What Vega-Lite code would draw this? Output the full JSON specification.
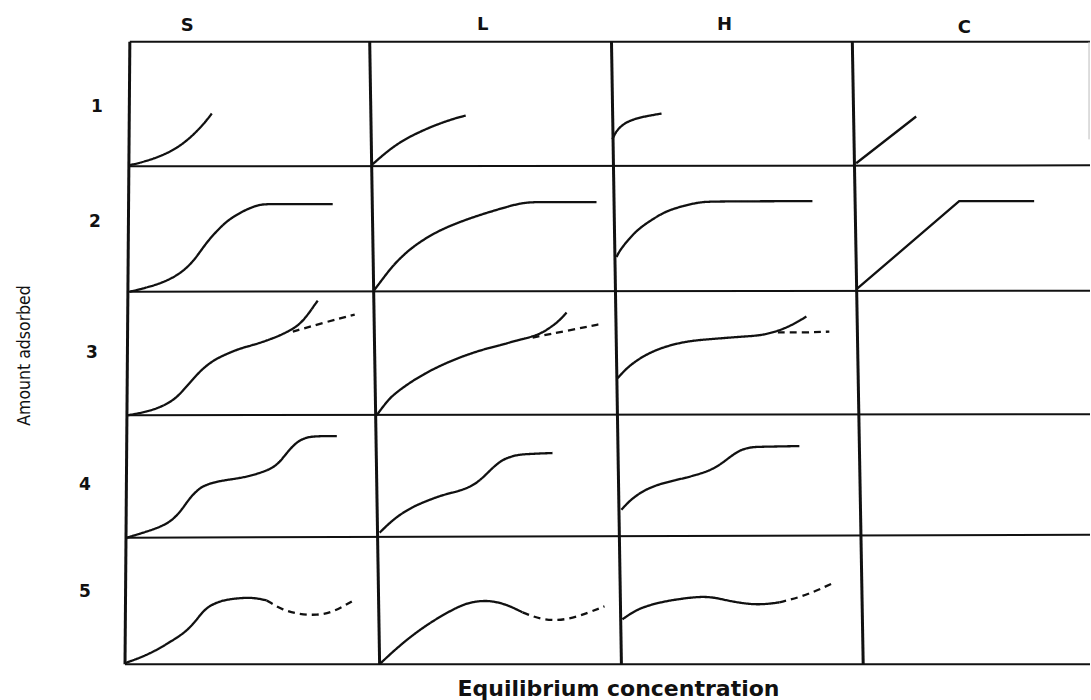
{
  "$schema": "https://vega.github.io/schema/vega-lite/v6.json",
  "width": 1091,
  "height": 700,
  "autosize": {"type": "fit", "contains": "padding"},
  "padding": 0,
  "background": "white",
  "config": {"view": {"stroke": null}},
  "datasets": {
    "grid": [
      {"kind": "v", "x": 0.010, "y": 5.000, "x2": -0.010, "y2": -0.008},
      {"kind": "v", "x": 1.002, "y": 5.000, "x2": 1.043, "y2": -0.008},
      {"kind": "v", "x": 2.002, "y": 5.000, "x2": 2.043, "y2": -0.008},
      {"kind": "v", "x": 2.998, "y": 5.000, "x2": 3.043, "y2": -0.008},
      {"kind": "f", "x": 3.977, "y": 5.000, "x2": 3.977, "y2": 4.215},
      {"kind": "h", "x": 0.010, "y": 5.000, "x2": 3.981, "y2": 5.000},
      {"kind": "h", "x": 0.006, "y": 3.998, "x2": 3.981, "y2": 4.006},
      {"kind": "h", "x": 0.004, "y": 2.989, "x2": 3.981, "y2": 2.997},
      {"kind": "h", "x": 0.002, "y": 1.995, "x2": 3.981, "y2": 2.003},
      {"kind": "h", "x": -0.002, "y": 1.010, "x2": 3.981, "y2": 1.034},
      {"kind": "h", "x": -0.010, "y": -0.008, "x2": 3.981, "y2": -0.008}
    ],
    "curves": [
      {"id": "S1", "fam": "S", "style": "solid", "x": 0.010, "y": 4.007},
      {"id": "S1", "fam": "S", "style": "solid", "x": 0.093, "y": 4.047},
      {"id": "S1", "fam": "S", "style": "solid", "x": 0.176, "y": 4.111},
      {"id": "S1", "fam": "S", "style": "solid", "x": 0.238, "y": 4.191},
      {"id": "S1", "fam": "S", "style": "solid", "x": 0.287, "y": 4.279},
      {"id": "S1", "fam": "S", "style": "solid", "x": 0.324, "y": 4.359},
      {"id": "S1", "fam": "S", "style": "solid", "x": 0.349, "y": 4.423},

      {"id": "L1", "fam": "L", "style": "solid", "x": 1.014, "y": 4.015},
      {"id": "L1", "fam": "L", "style": "solid", "x": 1.056, "y": 4.087},
      {"id": "L1", "fam": "L", "style": "solid", "x": 1.097, "y": 4.151},
      {"id": "L1", "fam": "L", "style": "solid", "x": 1.147, "y": 4.215},
      {"id": "L1", "fam": "L", "style": "solid", "x": 1.196, "y": 4.263},
      {"id": "L1", "fam": "L", "style": "solid", "x": 1.250, "y": 4.311},
      {"id": "L1", "fam": "L", "style": "solid", "x": 1.304, "y": 4.351},
      {"id": "L1", "fam": "L", "style": "solid", "x": 1.353, "y": 4.383},
      {"id": "L1", "fam": "L", "style": "solid", "x": 1.399, "y": 4.407},

      {"id": "H1", "fam": "H", "style": "solid", "x": 2.006, "y": 4.215},
      {"id": "H1", "fam": "H", "style": "solid", "x": 2.018, "y": 4.271},
      {"id": "H1", "fam": "H", "style": "solid", "x": 2.047, "y": 4.335},
      {"id": "H1", "fam": "H", "style": "solid", "x": 2.089, "y": 4.375},
      {"id": "H1", "fam": "H", "style": "solid", "x": 2.138, "y": 4.399},
      {"id": "H1", "fam": "H", "style": "solid", "x": 2.209, "y": 4.423},

      {"id": "C1", "fam": "C", "style": "solid", "x": 3.014, "y": 4.023},
      {"id": "C1", "fam": "C", "style": "solid", "x": 3.262, "y": 4.399},

      {"id": "S2", "fam": "S", "style": "solid", "x": 0.010, "y": 2.989},
      {"id": "S2", "fam": "S", "style": "solid", "x": 0.093, "y": 3.029},
      {"id": "S2", "fam": "S", "style": "solid", "x": 0.155, "y": 3.069},
      {"id": "S2", "fam": "S", "style": "solid", "x": 0.217, "y": 3.133},
      {"id": "S2", "fam": "S", "style": "solid", "x": 0.267, "y": 3.221},
      {"id": "S2", "fam": "S", "style": "solid", "x": 0.300, "y": 3.309},
      {"id": "S2", "fam": "S", "style": "solid", "x": 0.333, "y": 3.398},
      {"id": "S2", "fam": "S", "style": "solid", "x": 0.370, "y": 3.478},
      {"id": "S2", "fam": "S", "style": "solid", "x": 0.403, "y": 3.542},
      {"id": "S2", "fam": "S", "style": "solid", "x": 0.436, "y": 3.590},
      {"id": "S2", "fam": "S", "style": "solid", "x": 0.486, "y": 3.646},
      {"id": "S2", "fam": "S", "style": "solid", "x": 0.547, "y": 3.694},
      {"id": "S2", "fam": "S", "style": "solid", "x": 0.600, "y": 3.694},
      {"id": "S2", "fam": "S", "style": "solid", "x": 0.849, "y": 3.694},

      {"id": "L2", "fam": "L", "style": "solid", "x": 1.019, "y": 2.997},
      {"id": "L2", "fam": "L", "style": "solid", "x": 1.056, "y": 3.093},
      {"id": "L2", "fam": "L", "style": "solid", "x": 1.097, "y": 3.197},
      {"id": "L2", "fam": "L", "style": "solid", "x": 1.138, "y": 3.277},
      {"id": "L2", "fam": "L", "style": "solid", "x": 1.180, "y": 3.349},
      {"id": "L2", "fam": "L", "style": "solid", "x": 1.242, "y": 3.430},
      {"id": "L2", "fam": "L", "style": "solid", "x": 1.304, "y": 3.494},
      {"id": "L2", "fam": "L", "style": "solid", "x": 1.374, "y": 3.550},
      {"id": "L2", "fam": "L", "style": "solid", "x": 1.444, "y": 3.598},
      {"id": "L2", "fam": "L", "style": "solid", "x": 1.510, "y": 3.638},
      {"id": "L2", "fam": "L", "style": "solid", "x": 1.580, "y": 3.678},
      {"id": "L2", "fam": "L", "style": "solid", "x": 1.630, "y": 3.702},
      {"id": "L2", "fam": "L", "style": "solid", "x": 1.676, "y": 3.710},
      {"id": "L2", "fam": "L", "style": "solid", "x": 1.720, "y": 3.710},
      {"id": "L2", "fam": "L", "style": "solid", "x": 1.940, "y": 3.710},

      {"id": "H2", "fam": "H", "style": "solid", "x": 2.023, "y": 3.269},
      {"id": "H2", "fam": "H", "style": "solid", "x": 2.035, "y": 3.317},
      {"id": "H2", "fam": "H", "style": "solid", "x": 2.064, "y": 3.390},
      {"id": "H2", "fam": "H", "style": "solid", "x": 2.097, "y": 3.462},
      {"id": "H2", "fam": "H", "style": "solid", "x": 2.130, "y": 3.518},
      {"id": "H2", "fam": "H", "style": "solid", "x": 2.180, "y": 3.582},
      {"id": "H2", "fam": "H", "style": "solid", "x": 2.229, "y": 3.638},
      {"id": "H2", "fam": "H", "style": "solid", "x": 2.295, "y": 3.678},
      {"id": "H2", "fam": "H", "style": "solid", "x": 2.366, "y": 3.710},
      {"id": "H2", "fam": "H", "style": "solid", "x": 2.420, "y": 3.716},
      {"id": "H2", "fam": "H", "style": "solid", "x": 2.833, "y": 3.718},

      {"id": "C2", "fam": "C", "style": "solid", "x": 3.018, "y": 3.013},
      {"id": "C2", "fam": "C", "style": "solid", "x": 3.440, "y": 3.718},
      {"id": "C2", "fam": "C", "style": "solid", "x": 3.750, "y": 3.718},

      {"id": "S3", "fam": "S", "style": "solid", "x": 0.002, "y": 1.995},
      {"id": "S3", "fam": "S", "style": "solid", "x": 0.093, "y": 2.027},
      {"id": "S3", "fam": "S", "style": "solid", "x": 0.163, "y": 2.083},
      {"id": "S3", "fam": "S", "style": "solid", "x": 0.205, "y": 2.140},
      {"id": "S3", "fam": "S", "style": "solid", "x": 0.238, "y": 2.212},
      {"id": "S3", "fam": "S", "style": "solid", "x": 0.271, "y": 2.284},
      {"id": "S3", "fam": "S", "style": "solid", "x": 0.300, "y": 2.348},
      {"id": "S3", "fam": "S", "style": "solid", "x": 0.333, "y": 2.404},
      {"id": "S3", "fam": "S", "style": "solid", "x": 0.370, "y": 2.452},
      {"id": "S3", "fam": "S", "style": "solid", "x": 0.415, "y": 2.492},
      {"id": "S3", "fam": "S", "style": "solid", "x": 0.465, "y": 2.532},
      {"id": "S3", "fam": "S", "style": "solid", "x": 0.527, "y": 2.564},
      {"id": "S3", "fam": "S", "style": "solid", "x": 0.576, "y": 2.596},
      {"id": "S3", "fam": "S", "style": "solid", "x": 0.630, "y": 2.636},
      {"id": "S3", "fam": "S", "style": "solid", "x": 0.671, "y": 2.676},
      {"id": "S3", "fam": "S", "style": "solid", "x": 0.705, "y": 2.716},
      {"id": "S3", "fam": "S", "style": "solid", "x": 0.733, "y": 2.772},
      {"id": "S3", "fam": "S", "style": "solid", "x": 0.758, "y": 2.837},
      {"id": "S3", "fam": "S", "style": "solid", "x": 0.775, "y": 2.885},
      {"id": "S3", "fam": "S", "style": "solid", "x": 0.787, "y": 2.917},
      {"id": "S3d", "fam": "S", "style": "dashed", "x": 0.684, "y": 2.668},
      {"id": "S3d", "fam": "S", "style": "dashed", "x": 0.812, "y": 2.740},
      {"id": "S3d", "fam": "S", "style": "dashed", "x": 0.940, "y": 2.805},

      {"id": "L3", "fam": "L", "style": "solid", "x": 1.031, "y": 1.995},
      {"id": "L3", "fam": "L", "style": "solid", "x": 1.064, "y": 2.083},
      {"id": "L3", "fam": "L", "style": "solid", "x": 1.097, "y": 2.156},
      {"id": "L3", "fam": "L", "style": "solid", "x": 1.147, "y": 2.228},
      {"id": "L3", "fam": "L", "style": "solid", "x": 1.196, "y": 2.292},
      {"id": "L3", "fam": "L", "style": "solid", "x": 1.262, "y": 2.364},
      {"id": "L3", "fam": "L", "style": "solid", "x": 1.333, "y": 2.428},
      {"id": "L3", "fam": "L", "style": "solid", "x": 1.407, "y": 2.484},
      {"id": "L3", "fam": "L", "style": "solid", "x": 1.485, "y": 2.532},
      {"id": "L3", "fam": "L", "style": "solid", "x": 1.552, "y": 2.564},
      {"id": "L3", "fam": "L", "style": "solid", "x": 1.609, "y": 2.596},
      {"id": "L3", "fam": "L", "style": "solid", "x": 1.676, "y": 2.628},
      {"id": "L3", "fam": "L", "style": "solid", "x": 1.717, "y": 2.660},
      {"id": "L3", "fam": "L", "style": "solid", "x": 1.754, "y": 2.708},
      {"id": "L3", "fam": "L", "style": "solid", "x": 1.787, "y": 2.757},
      {"id": "L3", "fam": "L", "style": "solid", "x": 1.816, "y": 2.821},
      {"id": "L3d", "fam": "L", "style": "dashed", "x": 1.676, "y": 2.620},
      {"id": "L3d", "fam": "L", "style": "dashed", "x": 1.820, "y": 2.676},
      {"id": "L3d", "fam": "L", "style": "dashed", "x": 1.965, "y": 2.732},

      {"id": "H3", "fam": "H", "style": "solid", "x": 2.027, "y": 2.292},
      {"id": "H3", "fam": "H", "style": "solid", "x": 2.056, "y": 2.356},
      {"id": "H3", "fam": "H", "style": "solid", "x": 2.089, "y": 2.412},
      {"id": "H3", "fam": "H", "style": "solid", "x": 2.138, "y": 2.476},
      {"id": "H3", "fam": "H", "style": "solid", "x": 2.200, "y": 2.532},
      {"id": "H3", "fam": "H", "style": "solid", "x": 2.271, "y": 2.572},
      {"id": "H3", "fam": "H", "style": "solid", "x": 2.337, "y": 2.596},
      {"id": "H3", "fam": "H", "style": "solid", "x": 2.440, "y": 2.612},
      {"id": "H3", "fam": "H", "style": "solid", "x": 2.543, "y": 2.628},
      {"id": "H3", "fam": "H", "style": "solid", "x": 2.614, "y": 2.636},
      {"id": "H3", "fam": "H", "style": "solid", "x": 2.667, "y": 2.660},
      {"id": "H3", "fam": "H", "style": "solid", "x": 2.717, "y": 2.692},
      {"id": "H3", "fam": "H", "style": "solid", "x": 2.766, "y": 2.740},
      {"id": "H3", "fam": "H", "style": "solid", "x": 2.808, "y": 2.789},
      {"id": "H3d", "fam": "H", "style": "dashed", "x": 2.690, "y": 2.662},
      {"id": "H3d", "fam": "H", "style": "dashed", "x": 2.800, "y": 2.660},
      {"id": "H3d", "fam": "H", "style": "dashed", "x": 2.903, "y": 2.668},

      {"id": "S4", "fam": "S", "style": "solid", "x": -0.002, "y": 1.010},
      {"id": "S4", "fam": "S", "style": "solid", "x": 0.093, "y": 1.066},
      {"id": "S4", "fam": "S", "style": "solid", "x": 0.147, "y": 1.106},
      {"id": "S4", "fam": "S", "style": "solid", "x": 0.188, "y": 1.154},
      {"id": "S4", "fam": "S", "style": "solid", "x": 0.225, "y": 1.234},
      {"id": "S4", "fam": "S", "style": "solid", "x": 0.258, "y": 1.330},
      {"id": "S4", "fam": "S", "style": "solid", "x": 0.287, "y": 1.386},
      {"id": "S4", "fam": "S", "style": "solid", "x": 0.312, "y": 1.426},
      {"id": "S4", "fam": "S", "style": "solid", "x": 0.362, "y": 1.458},
      {"id": "S4", "fam": "S", "style": "solid", "x": 0.411, "y": 1.474},
      {"id": "S4", "fam": "S", "style": "solid", "x": 0.465, "y": 1.490},
      {"id": "S4", "fam": "S", "style": "solid", "x": 0.506, "y": 1.506},
      {"id": "S4", "fam": "S", "style": "solid", "x": 0.560, "y": 1.538},
      {"id": "S4", "fam": "S", "style": "solid", "x": 0.601, "y": 1.571},
      {"id": "S4", "fam": "S", "style": "solid", "x": 0.630, "y": 1.619},
      {"id": "S4", "fam": "S", "style": "solid", "x": 0.659, "y": 1.691},
      {"id": "S4", "fam": "S", "style": "solid", "x": 0.684, "y": 1.747},
      {"id": "S4", "fam": "S", "style": "solid", "x": 0.713, "y": 1.795},
      {"id": "S4", "fam": "S", "style": "solid", "x": 0.746, "y": 1.819},
      {"id": "S4", "fam": "S", "style": "solid", "x": 0.783, "y": 1.827},
      {"id": "S4", "fam": "S", "style": "solid", "x": 0.866, "y": 1.827},

      {"id": "L4", "fam": "L", "style": "solid", "x": 1.043, "y": 1.050},
      {"id": "L4", "fam": "L", "style": "solid", "x": 1.085, "y": 1.130},
      {"id": "L4", "fam": "L", "style": "solid", "x": 1.126, "y": 1.194},
      {"id": "L4", "fam": "L", "style": "solid", "x": 1.180, "y": 1.258},
      {"id": "L4", "fam": "L", "style": "solid", "x": 1.238, "y": 1.306},
      {"id": "L4", "fam": "L", "style": "solid", "x": 1.304, "y": 1.354},
      {"id": "L4", "fam": "L", "style": "solid", "x": 1.374, "y": 1.386},
      {"id": "L4", "fam": "L", "style": "solid", "x": 1.415, "y": 1.418},
      {"id": "L4", "fam": "L", "style": "solid", "x": 1.444, "y": 1.450},
      {"id": "L4", "fam": "L", "style": "solid", "x": 1.477, "y": 1.506},
      {"id": "L4", "fam": "L", "style": "solid", "x": 1.510, "y": 1.571},
      {"id": "L4", "fam": "L", "style": "solid", "x": 1.539, "y": 1.619},
      {"id": "L4", "fam": "L", "style": "solid", "x": 1.568, "y": 1.651},
      {"id": "L4", "fam": "L", "style": "solid", "x": 1.609, "y": 1.675},
      {"id": "L4", "fam": "L", "style": "solid", "x": 1.651, "y": 1.683},
      {"id": "L4", "fam": "L", "style": "solid", "x": 1.758, "y": 1.691},

      {"id": "H4", "fam": "H", "style": "solid", "x": 2.043, "y": 1.234},
      {"id": "H4", "fam": "H", "style": "solid", "x": 2.076, "y": 1.306},
      {"id": "H4", "fam": "H", "style": "solid", "x": 2.130, "y": 1.386},
      {"id": "H4", "fam": "H", "style": "solid", "x": 2.200, "y": 1.442},
      {"id": "H4", "fam": "H", "style": "solid", "x": 2.271, "y": 1.474},
      {"id": "H4", "fam": "H", "style": "solid", "x": 2.337, "y": 1.506},
      {"id": "H4", "fam": "H", "style": "solid", "x": 2.407, "y": 1.547},
      {"id": "H4", "fam": "H", "style": "solid", "x": 2.456, "y": 1.603},
      {"id": "H4", "fam": "H", "style": "solid", "x": 2.502, "y": 1.675},
      {"id": "H4", "fam": "H", "style": "solid", "x": 2.543, "y": 1.723},
      {"id": "H4", "fam": "H", "style": "solid", "x": 2.585, "y": 1.739},
      {"id": "H4", "fam": "H", "style": "solid", "x": 2.614, "y": 1.741},
      {"id": "H4", "fam": "H", "style": "solid", "x": 2.779, "y": 1.747},

      {"id": "S5", "fam": "S", "style": "solid", "x": -0.010, "y": 0.000},
      {"id": "S5", "fam": "S", "style": "solid", "x": 0.093, "y": 0.072},
      {"id": "S5", "fam": "S", "style": "solid", "x": 0.188, "y": 0.184},
      {"id": "S5", "fam": "S", "style": "solid", "x": 0.238, "y": 0.248},
      {"id": "S5", "fam": "S", "style": "solid", "x": 0.271, "y": 0.313},
      {"id": "S5", "fam": "S", "style": "solid", "x": 0.300, "y": 0.385},
      {"id": "S5", "fam": "S", "style": "solid", "x": 0.329, "y": 0.449},
      {"id": "S5", "fam": "S", "style": "solid", "x": 0.370, "y": 0.489},
      {"id": "S5", "fam": "S", "style": "solid", "x": 0.411, "y": 0.513},
      {"id": "S5", "fam": "S", "style": "solid", "x": 0.494, "y": 0.529},
      {"id": "S5", "fam": "S", "style": "solid", "x": 0.539, "y": 0.521},
      {"id": "S5", "fam": "S", "style": "solid", "x": 0.576, "y": 0.505},
      {"id": "S5d", "fam": "S", "style": "dashed", "x": 0.576, "y": 0.505},
      {"id": "S5d", "fam": "S", "style": "dashed", "x": 0.643, "y": 0.425},
      {"id": "S5d", "fam": "S", "style": "dashed", "x": 0.713, "y": 0.393},
      {"id": "S5d", "fam": "S", "style": "dashed", "x": 0.783, "y": 0.385},
      {"id": "S5d", "fam": "S", "style": "dashed", "x": 0.849, "y": 0.409},
      {"id": "S5d", "fam": "S", "style": "dashed", "x": 0.928, "y": 0.497},

      {"id": "L5", "fam": "L", "style": "solid", "x": 1.043, "y": -0.008},
      {"id": "L5", "fam": "L", "style": "solid", "x": 1.126, "y": 0.144},
      {"id": "L5", "fam": "L", "style": "solid", "x": 1.238, "y": 0.313},
      {"id": "L5", "fam": "L", "style": "solid", "x": 1.374, "y": 0.465},
      {"id": "L5", "fam": "L", "style": "solid", "x": 1.436, "y": 0.497},
      {"id": "L5", "fam": "L", "style": "solid", "x": 1.498, "y": 0.505},
      {"id": "L5", "fam": "L", "style": "solid", "x": 1.568, "y": 0.473},
      {"id": "L5", "fam": "L", "style": "solid", "x": 1.634, "y": 0.409},
      {"id": "L5d", "fam": "L", "style": "dashed", "x": 1.634, "y": 0.409},
      {"id": "L5d", "fam": "L", "style": "dashed", "x": 1.717, "y": 0.345},
      {"id": "L5d", "fam": "L", "style": "dashed", "x": 1.816, "y": 0.345},
      {"id": "L5d", "fam": "L", "style": "dashed", "x": 1.911, "y": 0.409},
      {"id": "L5d", "fam": "L", "style": "dashed", "x": 1.973, "y": 0.457},

      {"id": "H5", "fam": "H", "style": "solid", "x": 2.047, "y": 0.353},
      {"id": "H5", "fam": "H", "style": "solid", "x": 2.089, "y": 0.409},
      {"id": "H5", "fam": "H", "style": "solid", "x": 2.130, "y": 0.449},
      {"id": "H5", "fam": "H", "style": "solid", "x": 2.200, "y": 0.489},
      {"id": "H5", "fam": "H", "style": "solid", "x": 2.271, "y": 0.513},
      {"id": "H5", "fam": "H", "style": "solid", "x": 2.366, "y": 0.537},
      {"id": "H5", "fam": "H", "style": "solid", "x": 2.428, "y": 0.529},
      {"id": "H5", "fam": "H", "style": "solid", "x": 2.477, "y": 0.505},
      {"id": "H5", "fam": "H", "style": "solid", "x": 2.572, "y": 0.473},
      {"id": "H5", "fam": "H", "style": "solid", "x": 2.634, "y": 0.473},
      {"id": "H5", "fam": "H", "style": "solid", "x": 2.696, "y": 0.489},
      {"id": "H5d", "fam": "H", "style": "dashed", "x": 2.696, "y": 0.489},
      {"id": "H5d", "fam": "H", "style": "dashed", "x": 2.779, "y": 0.529},
      {"id": "H5d", "fam": "H", "style": "dashed", "x": 2.853, "y": 0.585},
      {"id": "H5d", "fam": "H", "style": "dashed", "x": 2.923, "y": 0.649}
    ],
    "labels": [
      {"role": "col", "text": "S", "x": 0.247, "y": 5.128},
      {"role": "col", "text": "L", "x": 1.469, "y": 5.136},
      {"role": "col", "text": "H", "x": 2.469, "y": 5.136},
      {"role": "col", "text": "C", "x": 3.461, "y": 5.112},
      {"role": "row", "text": "1", "x": -0.126, "y": 4.479},
      {"role": "row", "text": "2", "x": -0.134, "y": 3.550},
      {"role": "row", "text": "3", "x": -0.147, "y": 2.492},
      {"role": "row", "text": "4", "x": -0.176, "y": 1.434},
      {"role": "row", "text": "5", "x": -0.176, "y": 0.569},
      {"role": "ytitle", "text": "Amount adsorbed", "x": -0.424, "y": 2.476},
      {"role": "xtitle", "text": "Equilibrium concentration", "x": 2.031, "y": -0.208}
    ]
  },
  "layer": [
    {
      "data": {"name": "grid"},
      "transform": [{"filter": "datum.kind === 'v'"}],
      "mark": {"type": "rule", "color": "#111", "strokeWidth": 3},
      "encoding": {
        "x": {"field": "x", "type": "quantitative", "axis": null, "scale": {"domain": [-0.527, 3.981], "nice": false, "zero": false}},
        "y": {"field": "y", "type": "quantitative", "axis": null, "scale": {"domain": [-0.2724, 5.3365], "nice": false, "zero": false}},
        "x2": {"field": "x2"},
        "y2": {"field": "y2"}
      }
    },
    {
      "data": {"name": "grid"},
      "transform": [{"filter": "datum.kind === 'h'"}],
      "mark": {"type": "rule", "color": "#111", "strokeWidth": 2},
      "encoding": {
        "x": {"field": "x", "type": "quantitative"},
        "y": {"field": "y", "type": "quantitative"},
        "x2": {"field": "x2"},
        "y2": {"field": "y2"}
      }
    },
    {
      "data": {"name": "grid"},
      "transform": [{"filter": "datum.kind === 'f'"}],
      "mark": {"type": "rule", "color": "#bbb", "strokeWidth": 1},
      "encoding": {
        "x": {"field": "x", "type": "quantitative"},
        "y": {"field": "y", "type": "quantitative"},
        "x2": {"field": "x2"},
        "y2": {"field": "y2"}
      }
    },
    {
      "data": {"name": "curves"},
      "transform": [{"filter": "datum.fam !== 'C'"}],
      "mark": {"type": "line", "color": "#111", "strokeWidth": 2.3, "interpolate": "basis"},
      "encoding": {
        "x": {"field": "x", "type": "quantitative"},
        "y": {"field": "y", "type": "quantitative"},
        "detail": {"field": "id"},
        "strokeDash": {"field": "style", "type": "nominal", "legend": null, "scale": {"domain": ["solid", "dashed"], "range": [[1, 0], [7, 5]]}}
      }
    },
    {
      "data": {"name": "curves"},
      "transform": [{"filter": "datum.fam === 'C'"}],
      "mark": {"type": "line", "color": "#111", "strokeWidth": 2.3, "interpolate": "linear"},
      "encoding": {
        "x": {"field": "x", "type": "quantitative"},
        "y": {"field": "y", "type": "quantitative"},
        "detail": {"field": "id"}
      }
    },
    {
      "data": {"name": "labels"},
      "transform": [{"filter": "datum.role === 'col'"}],
      "mark": {"type": "text", "font": "DejaVu Sans", "fontWeight": "bold", "fontSize": 18, "color": "#111", "baseline": "middle", "align": "center"},
      "encoding": {
        "x": {"field": "x", "type": "quantitative"},
        "y": {"field": "y", "type": "quantitative"},
        "text": {"field": "text"}
      }
    },
    {
      "data": {"name": "labels"},
      "transform": [{"filter": "datum.role === 'row'"}],
      "mark": {"type": "text", "font": "DejaVu Sans", "fontWeight": "bold", "fontSize": 17, "color": "#111", "baseline": "middle", "align": "center"},
      "encoding": {
        "x": {"field": "x", "type": "quantitative"},
        "y": {"field": "y", "type": "quantitative"},
        "text": {"field": "text"}
      }
    },
    {
      "data": {"name": "labels"},
      "transform": [{"filter": "datum.role === 'ytitle'"}],
      "mark": {"type": "text", "font": "Liberation Sans Narrow, DejaVu Sans Condensed, sans-serif", "fontSize": 17.5, "color": "#111", "baseline": "middle", "align": "center", "angle": 270},
      "encoding": {
        "x": {"field": "x", "type": "quantitative"},
        "y": {"field": "y", "type": "quantitative"},
        "text": {"field": "text"}
      }
    },
    {
      "data": {"name": "labels"},
      "transform": [{"filter": "datum.role === 'xtitle'"}],
      "mark": {"type": "text", "font": "DejaVu Sans", "fontWeight": "bold", "fontSize": 22, "color": "#111", "baseline": "middle", "align": "center"},
      "encoding": {
        "x": {"field": "x", "type": "quantitative"},
        "y": {"field": "y", "type": "quantitative"},
        "text": {"field": "text"}
      }
    }
  ]
}
